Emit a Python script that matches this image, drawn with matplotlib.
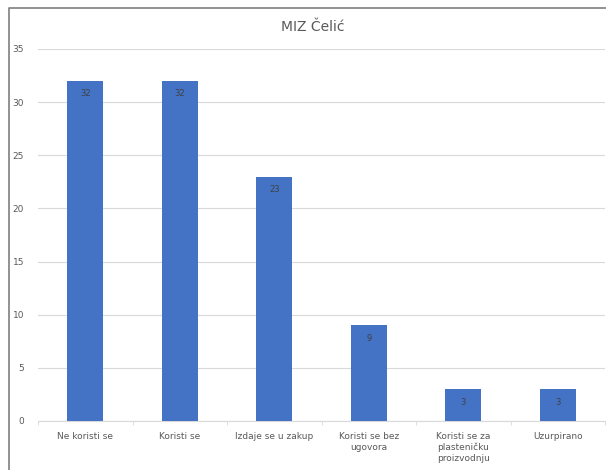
import matplotlib.pyplot as plt
from matplotlib.lines import Line2D

# Data
categories = ['Ne koristi se', 'Koristi se', 'Izdaje se u zakup', 'Koristi se bez\nugovora',
              'Koristi se za\nplasteničku\nproizvodnju', 'Uzurpirano']
values = [32, 32, 23, 9, 3, 3]

fig = plt.figure(figsize=(6.06, 4.70), dpi=100)
ax = fig.add_axes([38 / 606, 49 / 470, 567 / 606, 372 / 470])

bars = ax.bar(range(len(values)), values, width=0.38, color='#4472C4', zorder=3)
for b, v in zip(bars, values):
    ax.text(b.get_x() + b.get_width() / 2, v - 0.8, str(v), ha='center', va='top',
            fontsize=6, color='#404040', zorder=4)

ax.set_ylim(0, 35)
ax.set_xlim(-0.5, 5.5)
ax.set_yticks(range(0, 36, 5))
ax.grid(axis='y', color='#d9d9d9', linewidth=0.8, zorder=0)
ax.set_xticks(range(len(values)))
ax.set_xticklabels(categories, fontsize=6.5, color='#595959')
# small separator ticks between categories, like the spreadsheet chart
ax.set_xticks([i + 0.5 for i in range(-1, len(values))], minor=True)
ax.tick_params(axis='x', which='minor', length=3, color='#d9d9d9')
ax.tick_params(axis='y', labelsize=6.5, colors='#595959', length=0, pad=10)
ax.tick_params(axis='x', which='major', length=0, pad=8)
for s in ['top', 'right', 'left']:
    ax.spines[s].set_visible(False)
ax.spines['bottom'].set_color('#d9d9d9')

fig.text(313 / 606, 1 - 27 / 470, 'MIZ Čelić', ha='center', va='center', fontsize=10, color='#595959')

# outer chart border (only top and left visible in the screenshot)
fig.lines.append(Line2D([9 / 606, 9 / 606, 1], [0, 1 - 8 / 470, 1 - 8 / 470], transform=fig.transFigure,
                        color='#7f7f7f', linewidth=1.2))

fig.savefig('out.png', dpi=100)
